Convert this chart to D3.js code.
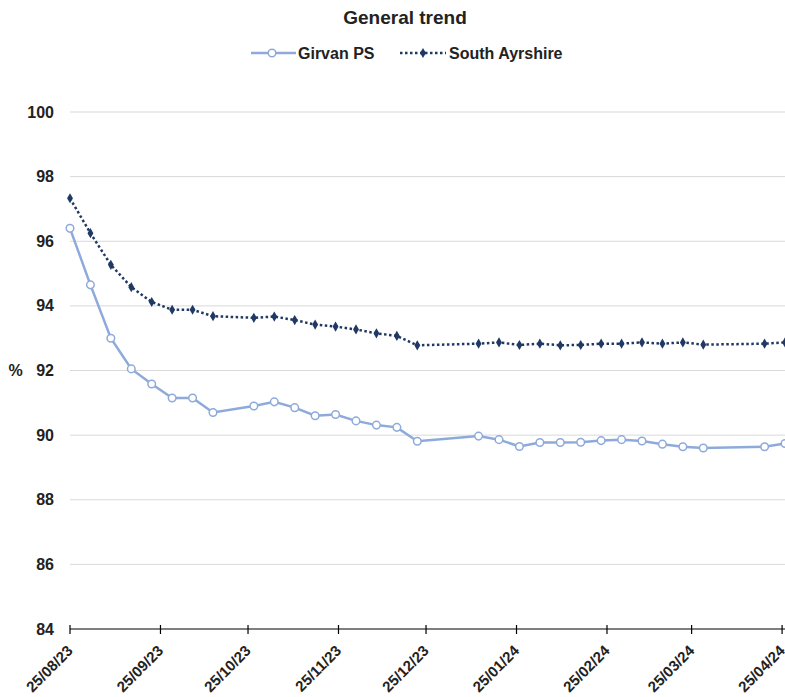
<!DOCTYPE html>
<html>
<head>
<meta charset="utf-8">
<script src="https://cdn.jsdelivr.net/npm/d3@7"></script>
<style>
  body { margin: 0; background: #fff; }
  text { font-family: "Liberation Sans", Arial, sans-serif; font-weight: bold; fill: #222; }
</style>
</head>
<body>
<div id="chart"></div>
<script>
// weekly dates (dd/mm/yy)
const dates = [
  "25/08/23", "01/09/23", "08/09/23", "15/09/23", "22/09/23", "29/09/23", "06/10/23", "13/10/23",
  "27/10/23", "03/11/23", "10/11/23", "17/11/23", "24/11/23", "01/12/23", "08/12/23", "15/12/23",
  "22/12/23", "12/01/24", "19/01/24", "26/01/24", "02/02/24", "09/02/24", "16/02/24", "23/02/24",
  "01/03/24", "08/03/24", "15/03/24", "22/03/24", "29/03/24", "19/04/24", "26/04/24"
];

const girvan = [
  96.4, 94.65, 93.0, 92.05, 91.58, 91.15, 91.15, 90.7,
  90.9, 91.03, 90.85, 90.6, 90.64, 90.44, 90.31, 90.24,
  89.81, 89.97, 89.86, 89.65, 89.77, 89.77, 89.78, 89.83,
  89.86, 89.82, 89.72, 89.64, 89.6, 89.64, 89.74
];

const southAyrshire = [
  97.33, 96.25, 95.27, 94.58, 94.12, 93.88, 93.88, 93.68,
  93.63, 93.67, 93.56, 93.42, 93.36, 93.27, 93.15, 93.07,
  92.78, 92.83, 92.87, 92.79, 92.83, 92.78, 92.79, 92.83,
  92.83, 92.87, 92.83, 92.87, 92.8, 92.83, 92.87
];

const xTickLabels = ["25/08/23", "25/09/23", "25/10/23", "25/11/23", "25/12/23",
  "25/01/24", "25/02/24", "25/03/24", "25/04/24"];
const yTicks = [84, 86, 88, 90, 92, 94, 96, 98, 100];

const parse = d3.timeParse("%d/%m/%y");

const width = 785, height = 697;
const margin = { top: 112, right: 0, bottom: 68, left: 70 };

const svg = d3.select("#chart").append("svg")
  .attr("width", width)
  .attr("height", height);

const x = d3.scaleTime()
  .domain([parse("25/08/23"), parse("26/04/24")])
  .range([margin.left, 785]);

const y = d3.scaleLinear()
  .domain([84, 100])
  .range([height - margin.bottom, margin.top]);

// gridlines
svg.append("g")
  .selectAll("line")
  .data(yTicks.filter(d => d > 84))
  .join("line")
  .attr("x1", margin.left)
  .attr("x2", width)
  .attr("y1", d => y(d))
  .attr("y2", d => y(d))
  .attr("stroke", "#d9d9d9")
  .attr("stroke-width", 1);

// y labels
svg.append("g")
  .selectAll("text")
  .data(yTicks)
  .join("text")
  .attr("x", 54)
  .attr("y", d => y(d))
  .attr("dy", "0.35em")
  .attr("text-anchor", "end")
  .style("font-size", "16px")
  .text(d => d);

svg.append("text")
  .attr("x", 15.5)
  .attr("y", y(92))
  .attr("dy", "0.35em")
  .attr("text-anchor", "middle")
  .style("font-size", "16px")
  .text("%");

// x axis
const xAxis = svg.append("g")
  .attr("transform", `translate(0,${y(84)})`);
xAxis.append("line")
  .attr("x1", margin.left)
  .attr("x2", width)
  .attr("stroke", "#000")
  .attr("stroke-width", 1.2);

const ticks = xAxis.selectAll("g.tick")
  .data(xTickLabels)
  .join("g")
  .attr("class", "tick")
  .attr("transform", d => `translate(${x(parse(d))},0)`);
ticks.append("line")
  .attr("y1", -4)
  .attr("y2", 5)
  .attr("stroke", "#000")
  .attr("stroke-width", 1.2);
ticks.append("text")
  .attr("transform", "translate(0,19) rotate(-45)")
  .attr("text-anchor", "end")
  .attr("dy", "0.35em")
  .style("font-size", "15px")
  .text(d => d);

// series
const gData = dates.map((d, i) => ({ date: parse(d), v: girvan[i] }));
const sData = dates.map((d, i) => ({ date: parse(d), v: southAyrshire[i] }));

const line = d3.line().x(d => x(d.date)).y(d => y(d.v));

const lightBlue = "#8eaadb";
const navy = "#203864";

svg.append("path")
  .datum(sData)
  .attr("d", line)
  .attr("fill", "none")
  .attr("stroke", navy)
  .attr("stroke-width", 2.5)
  .attr("stroke-dasharray", "2.5,2.5");

svg.append("g")
  .selectAll("path")
  .data(sData)
  .join("path")
  .attr("d", d3.symbol(d3.symbolDiamond, 30))
  .attr("transform", d => `translate(${x(d.date)},${y(d.v)})`)
  .attr("fill", navy);

svg.append("path")
  .datum(gData)
  .attr("d", line)
  .attr("fill", "none")
  .attr("stroke", lightBlue)
  .attr("stroke-width", 2.5);

svg.append("g")
  .selectAll("circle")
  .data(gData)
  .join("circle")
  .attr("cx", d => x(d.date))
  .attr("cy", d => y(d.v))
  .attr("r", 3.8)
  .attr("fill", "#fff")
  .attr("stroke", lightBlue)
  .attr("stroke-width", 1.5);

// title
svg.append("text")
  .attr("x", 405)
  .attr("y", 17)
  .attr("dy", "0.35em")
  .attr("text-anchor", "middle")
  .style("font-size", "19px")
  .text("General trend");

// legend
const legend = svg.append("g").attr("transform", "translate(0,53)");
legend.append("line")
  .attr("x1", 251).attr("x2", 296)
  .attr("stroke", lightBlue).attr("stroke-width", 2.5);
legend.append("circle")
  .attr("cx", 272).attr("r", 3.8)
  .attr("fill", "#fff").attr("stroke", lightBlue).attr("stroke-width", 1.5);
legend.append("text")
  .attr("x", 298).attr("dy", "0.35em")
  .style("font-size", "16px")
  .text("Girvan PS");

legend.append("line")
  .attr("x1", 400).attr("x2", 446)
  .attr("stroke", navy).attr("stroke-width", 2.5)
  .attr("stroke-dasharray", "2.5,2.5");
legend.append("path")
  .attr("d", d3.symbol(d3.symbolDiamond, 30))
  .attr("transform", "translate(423,0)")
  .attr("fill", navy);
legend.append("text")
  .attr("x", 449).attr("dy", "0.35em")
  .style("font-size", "16px")
  .text("South Ayrshire");
</script>
</body>
</html>
